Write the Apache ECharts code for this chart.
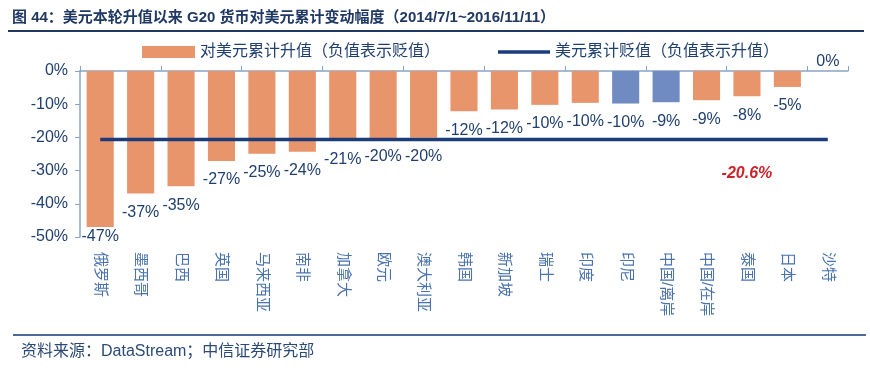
<!DOCTYPE html>
<html>
<head>
<meta charset="utf-8">
<script src="https://cdn.jsdelivr.net/npm/echarts@6/dist/echarts.min.js"></script>
<style>
html,body{margin:0;padding:0;background:#fff;}
#main{width:870px;height:372px;}
</style>
</head>
<body>
<div id="main"></div>
<script>
var categories = ['俄罗斯','墨西哥','巴西','英国','马来西亚','南非','加拿大','欧元','澳大利亚','韩国','新加坡','瑞士','印度','印尼','中国/离岸','中国/在岸','泰国','日本','沙特'];
var changeValues = [-47.0,-36.9,-34.7,-27.1,-24.9,-24.3,-20.9,-20.2,-20.1,-12.1,-11.6,-10.2,-9.6,-9.8,-9.4,-8.8,-7.6,-4.8,0];
var highlightCats = ['印尼','中国/离岸'];
var usdChange = -20.6;
var usdLabelCat = '泰国';
var usdLabelY = -31;
var yTicks = {min:-50, max:0, interval:10};
var barName = '对美元累计升值（负值表示贬值）';
var lineName = '美元累计贬值（负值表示升值）';
var titleText = '图 44：美元本轮升值以来 G20 货币对美元累计变动幅度（2014/7/1~2016/11/11）';
var sourceText = '资料来源：DataStream；中信证券研究部';

var FONT = '"Liberation Sans", "Noto Sans CJK SC", sans-serif';
var ORANGE = '#E8956C';
var BLUE = '#6F8BC2';
var NAVY = '#1B3C78';
var TXT = '#1F3F6E';
var AXIS = '#8AA4C8';

var barData = changeValues.map(function(v, i){
  var item = {value: v};
  if (highlightCats.indexOf(categories[i]) >= 0) item.itemStyle = {color: BLUE};
  if (v === 0) item.label = {position: 'top', distance: 1};
  if (v <= yTicks.min + 5) item.label = {distance: 2};
  return item;
});
var lineData = categories.map(function(){ return usdChange; });

var chart = echarts.init(document.getElementById('main'), null, {renderer:'canvas'});
chart.setOption({
  animation: false,
  textStyle: {fontFamily: FONT},
  title: [
    {text: titleText, left: 7, top: 5, textStyle: {fontFamily: FONT, fontSize: 15, fontWeight: 'bold', color: '#1F3864'}},
    {text: sourceText, left: 16, top: 339, textStyle: {fontFamily: FONT, fontSize: 16, fontWeight: 'normal', color: '#2B4A75'}}
  ],
  graphic: [
    {type: 'line', shape: {x1: 8, y1: 31, x2: 864, y2: 31}, style: {stroke: '#1F3864', lineWidth: 2}},
    {type: 'line', shape: {x1: 13, y1: 335, x2: 866, y2: 335}, style: {stroke: '#4A6A9A', lineWidth: 2}}
  ],
  legend: [
    {left: 137, top: 39, data: [{name: barName, icon: 'rect'}], itemWidth: 53, itemHeight: 12, itemGap: 5,
     textStyle: {fontFamily: FONT, fontSize: 16, color: TXT}},
    {left: 493, top: 39, data: [{name: lineName, icon: 'rect'}], itemWidth: 52, itemHeight: 3.5,
     textStyle: {fontFamily: FONT, fontSize: 16, color: TXT}}
  ],
  grid: {left: 80, right: 22, top: 71, bottom: 135, containLabel: false},
  xAxis: [
    {type: 'category', data: categories, position: 'top',
     axisLine: {show: true, onZero: false, lineStyle: {color: AXIS, width: 1.5}},
     axisTick: {show: true, inside: false, length: 5, lineStyle: {color: AXIS}},
     axisLabel: {show: false}, splitLine: {show: false}},
    {type: 'category', data: categories, position: 'bottom',
     axisLine: {show: false, onZero: false}, axisTick: {show: false},
     axisLabel: {show: true, rotate: -90, margin: 15, fontSize: 15, color: '#4A73AE', fontFamily: FONT, interval: 0},
     splitLine: {show: false}}
  ],
  yAxis: {type: 'value', min: yTicks.min, max: yTicks.max, interval: yTicks.interval,
    axisLine: {show: true, lineStyle: {color: AXIS, width: 1.5}},
    axisTick: {show: true, inside: false, length: 5, lineStyle: {color: AXIS}},
    axisLabel: {formatter: '{value}%', fontSize: 16, color: TXT, margin: 12, fontFamily: FONT},
    splitLine: {show: false}},
  series: [
    {name: barName, type: 'bar', xAxisIndex: 0, data: barData, barWidth: '67%',
     itemStyle: {color: ORANGE},
     label: {show: true, position: 'bottom', distance: 11, fontSize: 16, color: TXT, fontFamily: FONT,
       formatter: function(p){ return Math.round(p.value) + '%'; }}},
    {name: lineName, type: 'line', xAxisIndex: 0, data: lineData, symbol: 'none', showSymbol: false,
     lineStyle: {color: NAVY, width: 3.5}, itemStyle: {color: NAVY}, z: 5,
     markPoint: {symbol: 'rect', symbolSize: [1,1], itemStyle: {color: 'rgba(0,0,0,0)'},
       data: [{coord: [usdLabelCat, usdLabelY], value: usdChange}],
       label: {show: true, position: 'inside', fontSize: 16, fontWeight: 'bold', fontStyle: 'italic', color: '#D0202A', fontFamily: FONT,
         formatter: function(p){ return p.value + '%'; }}}}
  ]
});
</script>
</body>
</html>
